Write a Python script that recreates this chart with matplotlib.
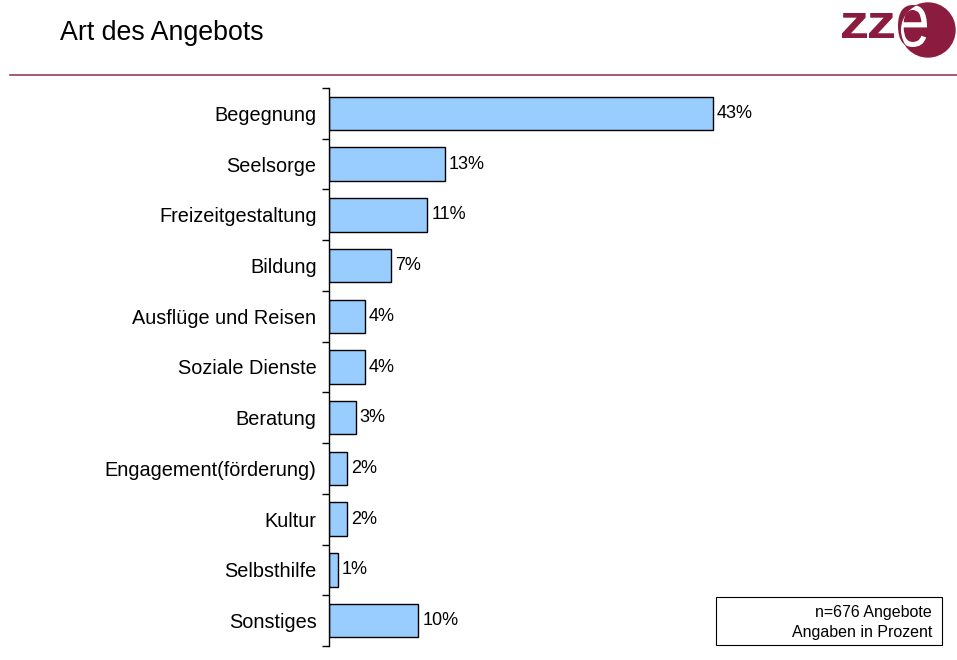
import matplotlib.pyplot as plt
from matplotlib.patches import Circle, Rectangle, PathPatch
from matplotlib.lines import Line2D
from matplotlib.textpath import TextPath
from matplotlib.font_manager import FontProperties
from matplotlib.transforms import Affine2D

plt.rcParams['font.family'] = ['Liberation Sans', 'DejaVu Sans']

categories = ['Begegnung', 'Seelsorge', 'Freizeitgestaltung', 'Bildung',
              'Ausflüge und Reisen', 'Soziale Dienste', 'Beratung',
              'Engagement(förderung)', 'Kultur', 'Selbsthilfe', 'Sonstiges']
values = [43, 13, 11, 7, 4, 4, 3, 2, 2, 1, 10]
value_labels = ['43%', '13%', '11%', '7%', '4%', '4%', '3%', '2%', '2%', '1%', '10%']

W, H = 957, 660
fig = plt.figure(figsize=(W / 100, H / 100), dpi=100)

# axes: x from 329px, y from 88px to 646px
ax = fig.add_axes([329 / W, 1 - 646 / H, (775 - 329) / W, (646 - 88) / H])
n = len(categories)
pos = list(range(n))
ax.barh(pos, values, height=0.66, color='#99CCFF', edgecolor='black', linewidth=1.0)
ax.set_xlim(0, 50)
ax.set_ylim(n - 0.5, -0.5)
for p, v, lab in zip(pos, values, value_labels):
    ax.text(v + 0.45, p, lab, va='center', ha='left', fontsize=13)

ax.set_yticks(pos)
ax.set_yticklabels(categories, fontsize=14.3)
ax.tick_params(axis='y', which='major', length=0, pad=9)
ax.set_yticks([i - 0.5 for i in range(n + 1)], minor=True)
ax.tick_params(axis='y', which='minor', length=5, width=1, direction='out')
ax.set_xticks([])
for s in ['top', 'right', 'bottom']:
    ax.spines[s].set_visible(False)
ax.spines['left'].set_linewidth(1.0)

# header
fig.text(60 / W, 1 - 33 / H, 'Art des Angebots', fontsize=19.3, va='center', ha='left')
fig.add_artist(Line2D([10 / W, 1], [1 - 75 / H, 1 - 75 / H], color='#9b3a5c', linewidth=1.2))

# logo (pixel boxes, y measured from top)
maroon = '#8c1c3f'


def glyph(ch, x0, x1, ytop, ybot, bold):
    fp = FontProperties(family='Liberation Sans', weight='bold' if bold else 'normal')
    tp = TextPath((0, 0), ch, size=1, prop=fp)
    ext = tp.get_extents()
    sx = (x1 - x0) / ext.width
    sy = (ybot - ytop) / ext.height
    tr = Affine2D().translate(-ext.x0, -ext.y0).scale(sx, sy).translate(x0, H - ybot)
    return tr.transform_path(tp)


for zx in [(842, 867), (869, 894)]:
    fig.add_artist(PathPatch(glyph('z', zx[0], zx[1], 13, 38, True), transform=None,
                             facecolor=maroon, edgecolor='none'))
circ = Circle((928, H - 30), 27, transform=None, color=maroon)
fig.add_artist(circ)
epath = glyph('e', 898, 927, 5, 47, False)
fig.add_artist(PathPatch(epath, transform=None, facecolor=maroon, edgecolor='none'))
e_in = PathPatch(epath, transform=None, facecolor='white', edgecolor='none')
fig.add_artist(e_in)
e_in.set_clip_path(Circle((928, H - 30), 27, transform=None))

# note box
fig.add_artist(Rectangle((716 / W, 1 - 645 / H), (942 - 716) / W, (645 - 597) / H,
                         transform=fig.transFigure, fill=False, edgecolor='black', linewidth=0.8))
fig.text(932 / W, 1 - 612 / H, 'n=676 Angebote', fontsize=11.5, ha='right', va='center')
fig.text(932 / W, 1 - 632 / H, 'Angaben in Prozent', fontsize=11.5, ha='right', va='center')

fig.savefig('out.png', dpi=100)
